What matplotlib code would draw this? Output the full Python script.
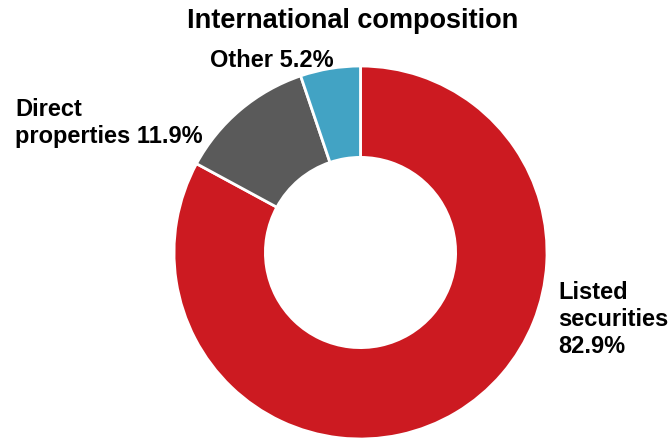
import matplotlib.pyplot as plt

plt.rcParams['font.family'] = ['Liberation Sans', 'DejaVu Sans']

categories = ["Listed securities", "Direct properties", "Other"]
shares = [82.9, 11.9, 5.2]
colors = ["#CC1A21", "#5A5A5A", "#42A3C4"]
labels = ["Listed\nsecurities\n82.9%", "Direct\nproperties 11.9%", "Other 5.2%"]
title = "International composition"

W, H = 670, 438
fig = plt.figure(figsize=(W / 100, H / 100), dpi=100)
ax = fig.add_axes([0, 0, 1, 1])
ax.set_aspect('equal')
ax.axis('off')

# pixel layout (y measured downward, so negated)
cx, cy, R = 360.5, 252.5, 186.5
ax.pie(shares, colors=colors, startangle=90, counterclock=False,
       center=(cx, -cy), radius=R,
       wedgeprops=dict(width=R * 0.49, edgecolor='white', linewidth=2))
ax.set_xlim(0, W)
ax.set_ylim(-H, 0)

ax.text(353, -28, title, ha='center', va='baseline',
        fontsize=19.5, fontweight='bold')

# baseline of the last line of each label
label_pos = [(558, -353), (15, -143), (210, -67)]
for (x, y), txt in zip(label_pos, labels):
    ax.text(x, y, txt, ha='left', va='baseline', fontsize=17,
            fontweight='bold', linespacing=1.23)

fig.savefig("out.png", dpi=100)
